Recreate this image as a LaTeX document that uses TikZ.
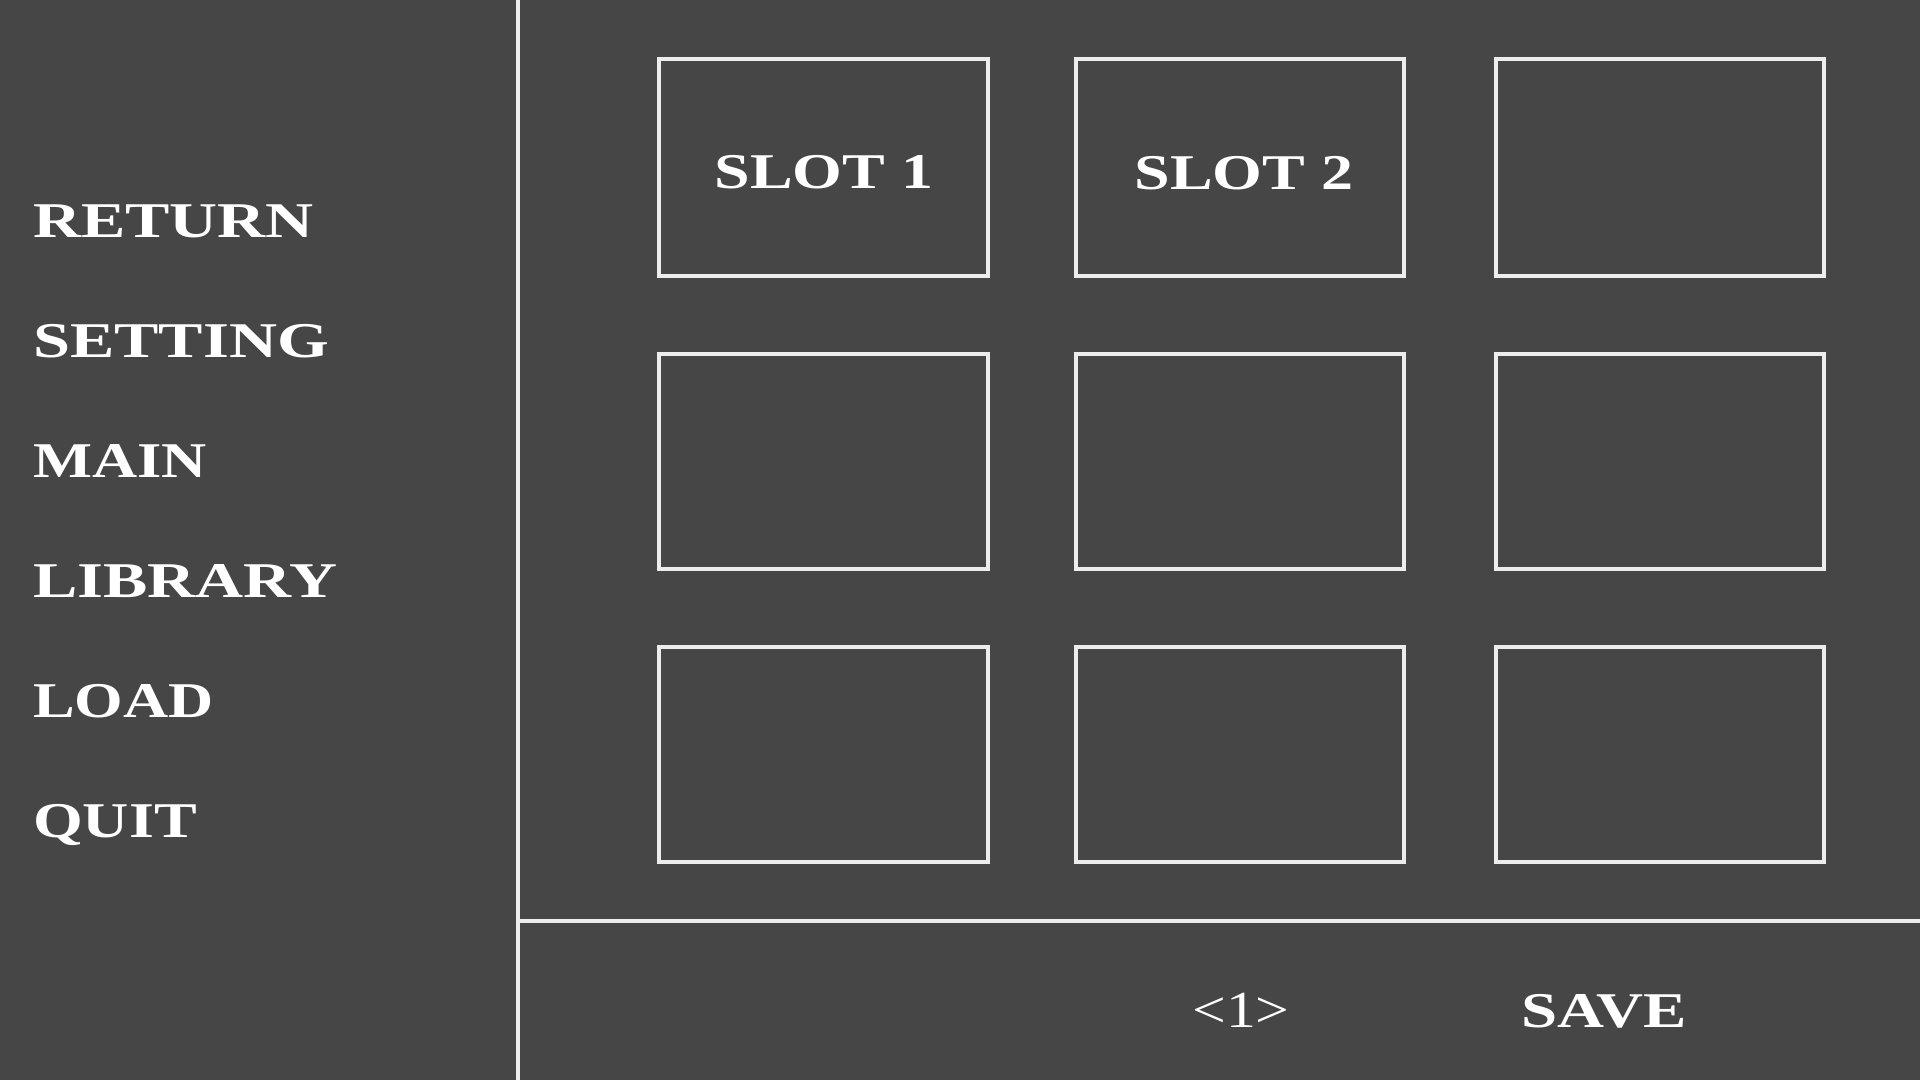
\documentclass[tikz,border=0pt]{standalone}
\usepackage{fontspec}
\setmainfont{Liberation Serif}
\definecolor{bg}{HTML}{464646}
\definecolor{ln}{HTML}{EDEDED}
\newcommand{\wide}[1]{\scalebox{1.33}[1]{#1}}
\begin{document}
\begin{tikzpicture}[x=1pt,y=-1pt,
  frame/.style={draw=ln,line width=3.2pt},
  lbl/.style={text=white,inner sep=0pt,font=\fontsize{50}{52}\selectfont\bfseries},
  menu/.style={lbl,anchor=base west},
  ctr/.style={lbl,anchor=base}]
\fill[bg] (0,0) rectangle (1920,1080);
\useasboundingbox (0,0) rectangle (1920,1080);
% dividers
\coordinate (vt) at (518,0);
\coordinate (vb) at (518,1080);
\coordinate (hl) at (518,921);
\coordinate (hr) at (1920,921);
\draw[frame] (vt) -- (vb);
\draw[frame] (hl) -- (hr);
% menu
\node[menu] (return) at (33,237) {\wide{RETURN}};
\node[menu] (setting) at (33,357) {\wide{SETTING}};
\node[menu] (main) at (33,477) {\scalebox{1.25}[1]{MAIN}};
\node[menu] (library) at (33,597) {\wide{LIBRARY}};
\node[menu] (load) at (33,717) {\scalebox{1.25}[1]{LOAD}};
\node[menu] (quit) at (33,837) {\scalebox{1.28}[1]{QUIT}};
% slots
\foreach \c/\xa/\xb in {1/659/988,2/1076/1404,3/1496/1824}{
  \foreach \r/\ya/\yb in {1/59/276,2/354/569,3/647/862}{
    \draw[frame] (\xa,\ya) rectangle (\xb,\yb);
  }
}
\node[ctr] (slot1) at (824,188) {\scalebox{1.28}[1]{SLOT 1}};
\node[ctr] (slot2) at (1244,189) {\scalebox{1.28}[1]{SLOT 2}};
% bottom bar
\node[ctr,font=\fontsize{52}{54}\selectfont] (page) at (1241,1027) {\scalebox{1.15}[1]{<1>}};
\node[ctr] (save) at (1604,1027) {\scalebox{1.3}[1]{SAVE}};
\end{tikzpicture}
\end{document}
